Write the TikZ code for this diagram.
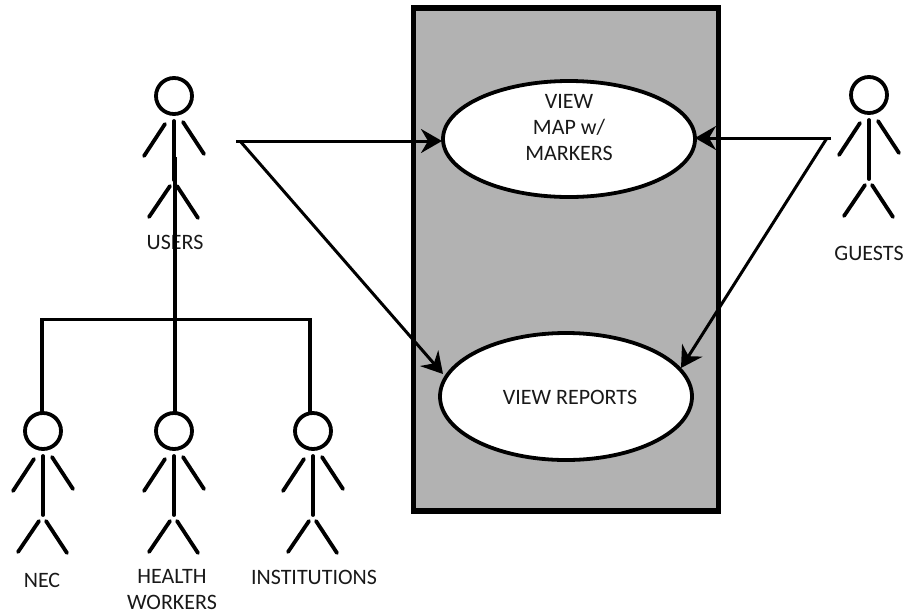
\documentclass[tikz,border=0pt]{standalone}
\usepackage{fontspec}
\setmainfont{Carlito}
\usetikzlibrary{arrows.meta,shapes.geometric}
\tikzset{
  limb/.style={line width=3.8pt,line cap=round,black},
  head/.style={circle,draw=black,line width=3.8pt,fill=white,minimum size=36pt,inner sep=0pt,outer sep=0pt},
  link/.style={line width=3.2pt,black},
  arrowlink/.style={line width=3pt,black,-{Stealth[length=21pt,width=24pt,inset=7pt]}},
  usecase/.style={ellipse,draw=black,line width=3.8pt,fill=white,inner sep=0pt,outer sep=0pt},
  lbl/.style={font=\fontsize{22}{26}\selectfont,text=black!90,inner sep=0pt,align=center},
}
\newcommand{\stickman}[3]{%
  \node[head] (#1) at (#2,#3) {};
  \begin{scope}[shift={(#2,#3)}]
    \draw[limb] (0,25) -- (0,84);
    \draw[limb] (-9,28) -- (-30,60);
    \draw[limb] (9,26) -- (30,58);
    \draw[limb] (-4,90) -- (-25,121);
    \draw[limb] (3,90) -- (24,122);
  \end{scope}}
\begin{document}
\begin{tikzpicture}[x=1pt,y=-1pt]
\useasboundingbox (0,0) rectangle (905,614);
\node[draw=black,line width=5.5pt,fill=black!30,minimum width=305pt,minimum height=503pt,inner sep=0pt,outer sep=0pt] (system) at (566,259.5) {};
\node[usecase,minimum width=252pt,minimum height=116pt] (map) at (569,139) {};
\node[usecase,minimum width=252pt,minimum height=127pt] (reports) at (566,396.5) {};
\node[lbl] (mapL) at (569,128) {VIEW\\MAP w/\\MARKERS};
\node[lbl] (reportsL) at (570,397) {VIEW REPORTS};
\stickman{users}{174}{96}
\stickman{guests}{869}{95}
\stickman{nec}{43}{431}
\stickman{health}{174}{431}
\stickman{inst}{313}{431}
\node[lbl] (usersL) at (175,242) {USERS};
\node[lbl] (guestsL) at (869,253) {GUESTS};
\node[lbl] (necL) at (42,580) {NEC};
\node[lbl] (healthL) at (172,590) {HEALTH\\WORKERS};
\node[lbl] (instL) at (314,577) {INSTITUTIONS};
\coordinate (usersHub) at (236,141);
\coordinate (guestsHub) at (831,138);
\coordinate (usersStem) at (175,157);
\coordinate (healthTop) at (175,413);
\coordinate (necTop) at (42,413);
\coordinate (instTop) at (310,413);
\coordinate (busL) at (42,319.5);
\coordinate (busR) at (310,319.5);
\draw[link] (usersStem) -- (healthTop);
\draw[link] (necTop) -- (busL) -- (busR) -- (instTop);
\coordinate (mapW) at (442,141);
\coordinate (mapE) at (695,138);
\coordinate (repW) at (443,374);
\coordinate (repE) at (681,368);
\draw[arrowlink] (usersHub) -- (mapW);
\draw[arrowlink] (usersHub) ++(4,0) coordinate (usersHubB) (usersHubB) -- (repW);
\draw[arrowlink] (guestsHub) -- (mapE);
\draw[arrowlink] (guestsHub) ++(-4,0) coordinate (guestsHubB) (guestsHubB) -- (repE);
\end{tikzpicture}
\end{document}
